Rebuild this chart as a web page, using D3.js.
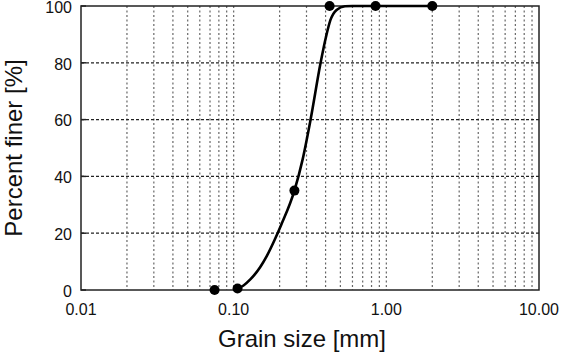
<!DOCTYPE html>
<html>
<head>
<meta charset="utf-8">
<script src="https://cdn.jsdelivr.net/npm/d3@7"></script>
<style>
  body { margin: 0; background: #fff; }
  svg { display: block; font-family: "Liberation Sans", Arial, sans-serif; }
</style>
</head>
<body>
<div id="chart"></div>
<script>
// DATA
const sieveSizes = [0.075, 0.106, 0.25, 0.425, 0.85, 2.0];
const sievePassing = [0, 0.5, 35, 100, 100, 100];
const curveSizes = [0.106, 0.116, 0.129, 0.149, 0.165, 0.185, 0.205, 0.25, 0.283, 0.319, 0.371, 0.402, 0.43, 0.472, 0.536, 0.60, 2.0];
const curvePassing = [0.5, 1.6, 3.8, 8, 12, 17.5, 23, 35, 46, 60, 80, 89, 95, 98.6, 99.9, 100, 100];
const xTickValues = [0.01, 0.1, 1, 10];
const xTickLabels = ['0.01', '0.10', '1.00', '10.00'];
const yTickValues = [0, 20, 40, 60, 80, 100];

// SETTINGS
const width = 561, height = 353;
const margin = { top: 6, right: 22, bottom: 63, left: 81 };
const graphWidth = width - margin.left - margin.right;
const graphHeight = height - margin.top - margin.bottom;

// SCALES
const x = d3.scaleLog().domain([0.01, 10]).range([0, graphWidth]);
const y = d3.scaleLinear().domain([0, 100]).range([graphHeight, 0]);

const svg = d3.select('#chart').append('svg')
    .attr('width', width)
    .attr('height', height);

const graph = svg.append('g')
    .attr('transform', `translate(${margin.left}, ${margin.top})`);

// vertical grid (minor + major)
const vGrid = [];
[0.01, 0.1, 1].forEach(dec => {
    for (let k = 1; k <= 9; k++) {
        const v = dec * k;
        if (v > 0.01 && v < 10) vGrid.push(v);
    }
});
graph.append('g').selectAll('line')
    .data(vGrid)
    .enter().append('line')
    .attr('x1', d => x(d)).attr('x2', d => x(d))
    .attr('y1', 0).attr('y2', graphHeight)
    .attr('stroke', '#666')
    .attr('stroke-width', 1.2)
    .attr('stroke-dasharray', '2,2.5');

// horizontal grid
graph.append('g').selectAll('line')
    .data(yTickValues.filter(d => d > 0 && d < 100))
    .enter().append('line')
    .attr('x1', 0).attr('x2', graphWidth)
    .attr('y1', d => y(d)).attr('y2', d => y(d))
    .attr('stroke', '#222')
    .attr('stroke-width', 1.2)
    .attr('stroke-dasharray', '3,2');

// frame
graph.append('rect')
    .attr('width', graphWidth).attr('height', graphHeight)
    .attr('fill', 'none').attr('stroke', '#222').attr('stroke-width', 1.5);

// y ticks (inward)
graph.append('g').selectAll('line')
    .data(yTickValues)
    .enter().append('line')
    .attr('x1', 0).attr('x2', 5)
    .attr('y1', d => y(d)).attr('y2', d => y(d))
    .attr('stroke', '#222').attr('stroke-width', 1.5);

// tick labels
graph.append('g').selectAll('text')
    .data(yTickValues)
    .enter().append('text')
    .attr('x', -9).attr('y', d => y(d))
    .attr('dy', '0.42em')
    .attr('text-anchor', 'end')
    .attr('font-size', 16)
    .attr('fill', '#111')
    .text(d => d);

graph.append('g').selectAll('text')
    .data(xTickValues)
    .enter().append('text')
    .attr('x', d => x(d)).attr('y', graphHeight + 25)
    .attr('text-anchor', 'middle')
    .attr('font-size', 16)
    .attr('fill', '#111')
    .text((d, i) => xTickLabels[i]);

// axis titles
svg.append('text')
    .attr('x', margin.left + graphWidth / 2 - 8).attr('y', 347)
    .attr('text-anchor', 'middle')
    .attr('font-size', 24)
    .attr('fill', '#111')
    .text('Grain size [mm]');

svg.append('text')
    .attr('transform', `translate(22, ${margin.top + graphHeight / 2}) rotate(-90)`)
    .attr('text-anchor', 'middle')
    .attr('font-size', 24)
    .attr('fill', '#111')
    .text('Percent finer [%]');

// fitted curve
const curveData = curveSizes.map((d, i) => ({ size: d, pass: curvePassing[i] }));
const line = d3.line()
    .x(d => x(d.size))
    .y(d => y(d.pass))
    .curve(d3.curveMonotoneX);

graph.append('path')
    .datum(curveData)
    .attr('fill', 'none')
    .attr('stroke', '#000')
    .attr('stroke-width', 2.6)
    .attr('d', line);

// sieve points
const pts = sieveSizes.map((d, i) => ({ size: d, pass: sievePassing[i] }));
graph.selectAll('circle')
    .data(pts)
    .enter().append('circle')
    .attr('cx', d => x(d.size))
    .attr('cy', d => y(d.pass))
    .attr('r', 5)
    .attr('fill', '#000');
</script>
</body>
</html>
